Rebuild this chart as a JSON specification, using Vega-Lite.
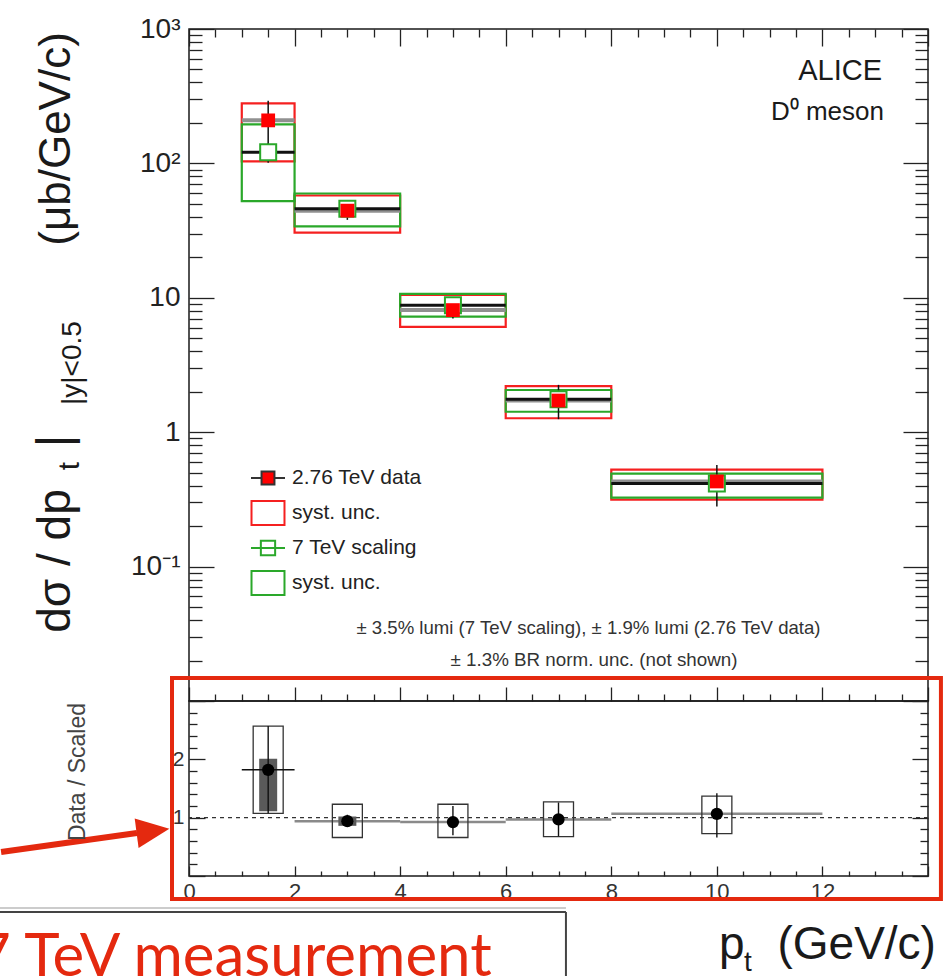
{
  "$schema": "https://vega.github.io/schema/vega-lite/v6.json",
  "background": "white",
  "padding": {"left": -25, "top": 14, "right": 0, "bottom": 0},
  "spacing": 0,
  "bounds": "flush",
  "config": {
    "view": {"stroke": "#1a1a1a", "strokeWidth": 1.5},
    "font": "Liberation Sans",
    "axis": {"labelFont": "Liberation Sans"},
    "legend": {"labelFont": "Liberation Sans"}
  },
  "datasets": {
    "spectrum": [
      {"lo": 1, "hi": 2, "pt": 1.5, "data": 209, "data_stat_lo": 126, "data_stat_hi": 292, "data_syst_lo": 103.5, "data_syst_hi": 280, "scaled": 121, "scaled_stat_lo": 101, "scaled_stat_hi": 141, "scaled_syst_lo": 52.4, "scaled_syst_hi": 195},
      {"lo": 2, "hi": 4, "pt": 3, "data": 44.5, "data_stat_lo": 38, "data_stat_hi": 52, "data_syst_lo": 30.5, "data_syst_hi": 57.7, "scaled": 46, "scaled_stat_lo": 43.5, "scaled_stat_hi": 48.5, "scaled_syst_lo": 34, "scaled_syst_hi": 59.7},
      {"lo": 4, "hi": 6, "pt": 5, "data": 8.1, "data_stat_lo": 7.0, "data_stat_hi": 9.4, "data_syst_lo": 6.08, "data_syst_hi": 10.5, "scaled": 8.8, "scaled_stat_lo": 8.4, "scaled_stat_hi": 9.2, "scaled_syst_lo": 7.25, "scaled_syst_hi": 10.7},
      {"lo": 6, "hi": 8, "pt": 7, "data": 1.72, "data_stat_lo": 1.25, "data_stat_hi": 2.25, "data_syst_lo": 1.27, "data_syst_hi": 2.2, "scaled": 1.76, "scaled_stat_lo": 1.68, "scaled_stat_hi": 1.84, "scaled_syst_lo": 1.42, "scaled_syst_hi": 2.06},
      {"lo": 8, "hi": 12, "pt": 10, "data": 0.43, "data_stat_lo": 0.28, "data_stat_hi": 0.57, "data_syst_lo": 0.315, "data_syst_hi": 0.527, "scaled": 0.415, "scaled_stat_lo": 0.4, "scaled_stat_hi": 0.43, "scaled_syst_lo": 0.326, "scaled_syst_hi": 0.492}
    ],
    "ratio": [
      {"lo": 1, "hi": 2, "pt": 1.5, "ratio": 1.82, "stat_lo": 1.075, "stat_hi": 2.57, "syst_lo": 1.075, "syst_hi": 2.57},
      {"lo": 2, "hi": 4, "pt": 3, "ratio": 0.94, "stat_lo": 0.84, "stat_hi": 1.05, "syst_lo": 0.66, "syst_hi": 1.23},
      {"lo": 4, "hi": 6, "pt": 5, "ratio": 0.924, "stat_lo": 0.7, "stat_hi": 1.2, "syst_lo": 0.66, "syst_hi": 1.23},
      {"lo": 6, "hi": 8, "pt": 7, "ratio": 0.97, "stat_lo": 0.68, "stat_hi": 1.26, "syst_lo": 0.676, "syst_hi": 1.27},
      {"lo": 8, "hi": 12, "pt": 10, "ratio": 1.066, "stat_lo": 0.66, "stat_hi": 1.42, "syst_lo": 0.728, "syst_hi": 1.37}
    ],
    "ratio_inner": [
      {"pt": 1.5, "lo": 1.11, "hi": 2.01},
      {"pt": 3, "lo": 0.86, "hi": 1.02}
    ],
    "legend": [
      {"entry": "2.76 TeV data"},
      {"entry": "syst. unc. (2.76 TeV)"},
      {"entry": "7 TeV scaling"},
      {"entry": "syst. unc. (7 TeV)"}
    ]
  },
  "vconcat": [
    {
      "width": 739,
      "height": 672,
      "data": {"name": "spectrum"},
      "resolve": {"axis": {"x": "independent", "y": "independent"}},
      "layer": [
        {
          "mark": {"type": "rect", "fill": "transparent", "stroke": "#f52020", "strokeWidth": 2.2},
          "encoding": {
            "x": {"field": "lo", "type": "quantitative", "scale": {"domain": [0, 14], "nice": false, "zero": false},
              "axis": {"orient": "bottom", "values": [0,0.5,1,1.5,2,2.5,3,3.5,4,4.5,5,5.5,6,6.5,7,7.5,8,8.5,9,9.5,10,10.5,11,11.5,12,12.5,13,13.5,14], "labels": false, "domain": false, "grid": false, "title": null, "tickColor": "#222", "tickWidth": 1.3, "tickSize": {"condition": {"test": "datum.value % 2 === 0", "value": -14}, "value": -7}}},
            "x2": {"field": "hi"},
            "y": {"field": "data_syst_lo", "type": "quantitative", "scale": {"type": "log", "domain": [0.01, 1000], "nice": false},
              "axis": {"orient": "left", "values": [0.1, 1, 10, 100, 1000], "ticks": false, "domain": false, "grid": false, "title": null, "labelFontSize": 28, "labelPadding": 9, "labelColor": "#222", "labelFlush": false, "labelOverlap": false, "labelExpr": "datum.value >= 999 ? '10³' : datum.value >= 99 ? '10²' : datum.value >= 9 ? '10' : datum.value >= 0.9 ? '1' : '10⁻¹'"}},
            "y2": {"field": "data_syst_hi"}
          }
        },
        {
          "mark": {"type": "rect", "fill": "transparent", "stroke": "#2aa82a", "strokeWidth": 2.2},
          "encoding": {
            "x": {"field": "lo", "type": "quantitative",
              "axis": {"orient": "top", "values": [0,0.5,1,1.5,2,2.5,3,3.5,4,4.5,5,5.5,6,6.5,7,7.5,8,8.5,9,9.5,10,10.5,11,11.5,12,12.5,13,13.5,14], "labels": false, "domain": false, "grid": false, "title": null, "tickColor": "#222", "tickWidth": 1.3, "tickSize": {"condition": {"test": "datum.value % 2 === 0", "value": -17}, "value": -8}}},
            "x2": {"field": "hi"},
            "y": {"field": "scaled_syst_lo", "type": "quantitative",
              "axis": {"orient": "left", "values": [0.01,0.02,0.03,0.04,0.05,0.06,0.07,0.08,0.09,0.1,0.2,0.3,0.4,0.5,0.6,0.7,0.8,0.9,1,2,3,4,5,6,7,8,9,10,20,30,40,50,60,70,80,90,100,200,300,400,500,600,700,800,900,1000], "labels": false, "domain": false, "grid": false, "title": null, "tickColor": "#222", "tickWidth": 1.3, "tickSize": {"condition": {"test": "abs(log(datum.value)/LN10 - round(log(datum.value)/LN10)) < 0.001", "value": -25}, "value": -13}}},
            "y2": {"field": "scaled_syst_hi"}
          }
        },
        {
          "mark": {"type": "rule", "color": "#909090", "strokeWidth": 4},
          "encoding": {
            "x": {"field": "lo", "type": "quantitative", "axis": null},
            "x2": {"field": "hi"},
            "y": {"field": "data", "type": "quantitative",
              "axis": {"orient": "right", "values": [0.01,0.02,0.03,0.04,0.05,0.06,0.07,0.08,0.09,0.1,0.2,0.3,0.4,0.5,0.6,0.7,0.8,0.9,1,2,3,4,5,6,7,8,9,10,20,30,40,50,60,70,80,90,100,200,300,400,500,600,700,800,900,1000], "labels": false, "domain": false, "grid": false, "title": null, "tickColor": "#222", "tickWidth": 1.3, "tickSize": {"condition": {"test": "abs(log(datum.value)/LN10 - round(log(datum.value)/LN10)) < 0.001", "value": -25}, "value": -13}}}
          }
        },
        {
          "mark": {"type": "rule", "color": "#111111", "strokeWidth": 3},
          "encoding": {
            "x": {"field": "lo", "type": "quantitative", "axis": null},
            "x2": {"field": "hi"},
            "y": {"field": "scaled", "type": "quantitative", "axis": null}
          }
        },
        {
          "mark": {"type": "rule", "color": "#111111", "strokeWidth": 1.5},
          "encoding": {
            "x": {"field": "pt", "type": "quantitative", "axis": null},
            "y": {"field": "data_stat_lo", "type": "quantitative", "axis": null},
            "y2": {"field": "data_stat_hi"}
          }
        },
        {
          "mark": {"type": "rule", "color": "#111111", "strokeWidth": 1.5},
          "encoding": {
            "x": {"field": "pt", "type": "quantitative", "axis": null},
            "y": {"field": "scaled_stat_lo", "type": "quantitative", "axis": null},
            "y2": {"field": "scaled_stat_hi"}
          }
        },
        {
          "mark": {"type": "point", "shape": "square", "size": 256, "filled": false, "fill": "#ffffff", "stroke": "#2aa82a", "strokeWidth": 2, "opacity": 1},
          "encoding": {
            "x": {"field": "pt", "type": "quantitative", "axis": null},
            "y": {"field": "scaled", "type": "quantitative", "axis": null}
          }
        },
        {
          "mark": {"type": "point", "shape": "square", "size": 190, "filled": true, "color": "#ff0000", "opacity": 1},
          "encoding": {
            "x": {"field": "pt", "type": "quantitative", "axis": null},
            "y": {"field": "data", "type": "quantitative", "axis": null}
          }
        },
        {
          "data": {"name": "legend"},
          "transform": [{"filter": "false"}],
          "mark": {"type": "point", "filled": false, "opacity": 1},
          "encoding": {
            "shape": {"field": "entry", "type": "nominal",
              "scale": {"domain": ["2.76 TeV data", "syst. unc. (2.76 TeV)", "7 TeV scaling", "syst. unc. (7 TeV)"], "range": ["M-1,0H-0.38M0.38,0H1M-0.38,-0.38H0.38V0.38H-0.38Z", "M-0.97,-0.7H0.97V0.7H-0.97Z", "M-1,0H1M-0.42,-0.42H0.42V0.42H-0.42Z", "M-0.97,-0.7H0.97V0.7H-0.97Z"]},
              "legend": {"orient": "none", "legendX": 61, "legendY": 431, "title": null, "symbolSize": 1156, "symbolStrokeWidth": 2, "symbolOpacity": 1, "labelFontSize": 21, "labelColor": "#222", "labelOffset": 6, "rowPadding": 1, "gridAlign": "all", "padding": 0, "labelExpr": "indexof(datum.label, 'syst') === 0 ? 'syst. unc.' : datum.label"}},
            "fill": {"field": "entry", "type": "nominal",
              "scale": {"domain": ["2.76 TeV data", "syst. unc. (2.76 TeV)", "7 TeV scaling", "syst. unc. (7 TeV)"], "range": ["#ff0000", "transparent", "transparent", "transparent"]},
              "legend": {"orient": "none", "legendX": 61, "legendY": 431, "title": null, "symbolSize": 1156, "symbolStrokeWidth": 2, "symbolOpacity": 1, "labelFontSize": 21, "labelColor": "#222", "labelOffset": 6, "rowPadding": 1, "gridAlign": "all", "padding": 0, "labelExpr": "indexof(datum.label, 'syst') === 0 ? 'syst. unc.' : datum.label"}},
            "stroke": {"field": "entry", "type": "nominal",
              "scale": {"domain": ["2.76 TeV data", "syst. unc. (2.76 TeV)", "7 TeV scaling", "syst. unc. (7 TeV)"], "range": ["#333333", "#f52020", "#2aa82a", "#2aa82a"]},
              "legend": {"orient": "none", "legendX": 61, "legendY": 431, "title": null, "symbolSize": 1156, "symbolStrokeWidth": 2, "symbolOpacity": 1, "labelFontSize": 21, "labelColor": "#222", "labelOffset": 6, "rowPadding": 1, "gridAlign": "all", "padding": 0, "labelExpr": "indexof(datum.label, 'syst') === 0 ? 'syst. unc.' : datum.label"}}
          }
        },
        {
          "data": {"values": [{}]},
          "mark": {"type": "text", "text": "ALICE", "align": "right", "baseline": "middle", "fontSize": 29, "color": "#1a1a1a"},
          "encoding": {"x": {"datum": 13.13, "axis": null}, "y": {"datum": 487, "axis": null}}
        },
        {
          "data": {"values": [{}]},
          "mark": {"type": "text", "text": "D⁰ meson", "align": "right", "baseline": "middle", "fontSize": 26, "color": "#1a1a1a"},
          "encoding": {"x": {"datum": 13.165, "axis": null}, "y": {"datum": 241, "axis": null}}
        },
        {
          "data": {"values": [{}]},
          "mark": {"type": "text", "text": "± 3.5% lumi (7 TeV scaling),   ± 1.9% lumi (2.76 TeV data)", "align": "center", "baseline": "middle", "fontSize": 18.6, "color": "#333333"},
          "encoding": {"x": {"datum": 7.568, "axis": null}, "y": {"datum": 0.0349, "axis": null}}
        },
        {
          "data": {"values": [{}]},
          "mark": {"type": "text", "text": "± 1.3% BR norm. unc. (not shown)", "align": "center", "baseline": "middle", "fontSize": 18.8, "color": "#333333"},
          "encoding": {"x": {"datum": 7.672, "axis": null}, "y": {"datum": 0.0202, "axis": null}}
        },
        {
          "data": {"values": [{}]},
          "mark": {"type": "text", "text": "dσ / dp", "angle": 270, "align": "center", "baseline": "alphabetic", "fontSize": 46, "color": "#1a1a1a"},
          "encoding": {"x": {"datum": -2.254, "axis": null}, "y": {"datum": 0.110, "axis": null}}
        },
        {
          "data": {"values": [{}]},
          "mark": {"type": "text", "text": "t", "angle": 270, "align": "center", "baseline": "alphabetic", "fontSize": 30, "color": "#1a1a1a"},
          "encoding": {"x": {"datum": -2.084, "axis": null}, "y": {"datum": 0.56, "axis": null}}
        },
        {
          "data": {"values": [{}]},
          "mark": {"type": "text", "text": "|", "angle": 270, "align": "center", "baseline": "alphabetic", "fontSize": 48, "color": "#1a1a1a"},
          "encoding": {"x": {"datum": -2.254, "axis": null}, "y": {"datum": 0.86, "axis": null}}
        },
        {
          "data": {"values": [{}]},
          "mark": {"type": "text", "text": "|y|<0.5", "angle": 270, "align": "center", "baseline": "alphabetic", "fontSize": 28, "color": "#1a1a1a"},
          "encoding": {"x": {"datum": -2.046, "axis": null}, "y": {"datum": 3.27, "axis": null}}
        },
        {
          "data": {"values": [{}]},
          "mark": {"type": "text", "text": "(μb/GeV/c)", "angle": 270, "align": "center", "baseline": "alphabetic", "fontSize": 44, "color": "#1a1a1a"},
          "encoding": {"x": {"datum": -2.254, "axis": null}, "y": {"datum": 152, "axis": null}}
        }
      ]
    },
    {
      "width": 739,
      "height": 175,
      "data": {"name": "ratio"},
      "resolve": {"axis": {"x": "independent", "y": "independent"}},
      "layer": [
        {
          "transform": [{"filter": "datum.pt > 2"}],
          "mark": {"type": "rule", "color": "#8a8a8a", "strokeWidth": 2.5},
          "encoding": {
            "x": {"field": "lo", "type": "quantitative", "scale": {"domain": [0, 14], "nice": false, "zero": false},
              "axis": {"orient": "bottom", "values": [0, 2, 4, 6, 8, 10, 12], "ticks": false, "domain": false, "grid": false, "title": null, "labelFontSize": 22, "labelPadding": 5, "labelColor": "#333333", "labelFlush": false, "labelOverlap": false}},
            "x2": {"field": "hi"},
            "y": {"field": "ratio", "type": "quantitative", "scale": {"domain": [0, 3], "nice": false, "zero": false},
              "axis": {"orient": "left", "values": [1, 2], "ticks": false, "domain": false, "grid": false, "title": null, "labelFontSize": 21, "labelPadding": 5, "labelColor": "#333333", "labelFlush": false}}
          }
        },
        {
          "data": {"values": [{}]},
          "mark": {"type": "rule", "color": "#333333", "strokeWidth": 1.2, "strokeDash": [4, 4]},
          "encoding": {"y": {"datum": 1, "axis": null}}
        },
        {
          "mark": {"type": "rect", "width": 30, "fill": "transparent", "stroke": "#333333", "strokeWidth": 1.3},
          "encoding": {
            "x": {"field": "pt", "type": "quantitative",
              "axis": {"orient": "bottom", "values": [0,0.5,1,1.5,2,2.5,3,3.5,4,4.5,5,5.5,6,6.5,7,7.5,8,8.5,9,9.5,10,10.5,11,11.5,12,12.5,13,13.5,14], "labels": false, "domain": false, "grid": false, "title": null, "tickColor": "#222", "tickWidth": 1.3, "tickSize": {"condition": {"test": "datum.value % 2 === 0", "value": -10}, "value": -5}}},
            "y": {"field": "syst_lo", "type": "quantitative",
              "axis": {"orient": "left", "values": [0,0.2,0.4,0.6,0.8,1,1.2,1.4,1.6,1.8,2,2.2,2.4,2.6,2.8,3], "labels": false, "domain": false, "grid": false, "title": null, "tickColor": "#222", "tickWidth": 1.3, "tickSize": {"condition": {"test": "abs(datum.value - round(datum.value)) < 0.01", "value": -16}, "value": -8}}},
            "y2": {"field": "syst_hi"}
          }
        },
        {
          "data": {"name": "ratio_inner"},
          "mark": {"type": "rect", "width": 18, "color": "#5a5a5a", "opacity": 1},
          "encoding": {
            "x": {"field": "pt", "type": "quantitative", "axis": null},
            "y": {"field": "lo", "type": "quantitative",
              "axis": {"orient": "right", "values": [0,0.2,0.4,0.6,0.8,1,1.2,1.4,1.6,1.8,2,2.2,2.4,2.6,2.8,3], "labels": false, "domain": false, "grid": false, "title": null, "tickColor": "#222", "tickWidth": 1.3, "tickSize": {"condition": {"test": "abs(datum.value - round(datum.value)) < 0.01", "value": -16}, "value": -8}}},
            "y2": {"field": "hi"}
          }
        },
        {
          "transform": [{"filter": "datum.pt < 2"}],
          "mark": {"type": "rule", "color": "#111111", "strokeWidth": 1.5},
          "encoding": {
            "x": {"field": "lo", "type": "quantitative", "axis": null},
            "x2": {"field": "hi"},
            "y": {"field": "ratio", "type": "quantitative", "axis": null}
          }
        },
        {
          "mark": {"type": "rule", "color": "#111111", "strokeWidth": 1.4},
          "encoding": {
            "x": {"field": "pt", "type": "quantitative", "axis": null},
            "y": {"field": "stat_lo", "type": "quantitative", "axis": null},
            "y2": {"field": "stat_hi"}
          }
        },
        {
          "mark": {"type": "point", "shape": "circle", "size": 150, "filled": true, "color": "#000000", "opacity": 1},
          "encoding": {
            "x": {"field": "pt", "type": "quantitative", "axis": null},
            "y": {"field": "ratio", "type": "quantitative", "axis": null}
          }
        },
        {
          "data": {"values": [{}]},
          "mark": {"type": "rect", "fill": "transparent", "stroke": "#e4290f", "strokeWidth": 4},
          "encoding": {
            "x": {"datum": -0.322, "axis": null}, "x2": {"datum": 14.245},
            "y": {"datum": 3.394, "axis": null}, "y2": {"datum": -0.394}
          }
        },
        {
          "data": {"values": [{}]},
          "mark": {"type": "rule", "color": "#e4290f", "strokeWidth": 6},
          "encoding": {
            "x": {"datum": -3.56, "axis": null}, "x2": {"datum": -0.985},
            "y": {"datum": 0.411, "axis": null}, "y2": {"datum": 0.737}
          }
        },
        {
          "data": {"values": [{}]},
          "mark": {"type": "point", "shape": "M-1,-0.9L1,0L-1,0.9Z", "size": 1089, "angle": -7.5, "filled": true, "color": "#e4290f", "opacity": 1},
          "encoding": {"x": {"datum": -0.682, "axis": null}, "y": {"datum": 0.771, "axis": null}}
        },
        {
          "data": {"values": [{}]},
          "mark": {"type": "rule", "color": "#cccccc", "strokeWidth": 2},
          "encoding": {
            "x": {"datum": -4.0, "axis": null}, "x2": {"datum": 7.141},
            "y": {"datum": -0.549, "axis": null}
          }
        },
        {
          "data": {"values": [{}]},
          "mark": {"type": "rule", "color": "#444444", "strokeWidth": 2},
          "encoding": {
            "x": {"datum": -4.0, "axis": null}, "x2": {"datum": 7.141},
            "y": {"datum": -0.617, "axis": null}
          }
        },
        {
          "data": {"values": [{}]},
          "mark": {"type": "rule", "color": "#444444", "strokeWidth": 2},
          "encoding": {
            "x": {"datum": 7.141, "axis": null},
            "y": {"datum": -0.617, "axis": null}, "y2": {"datum": -2.1}
          }
        },
        {
          "data": {"values": [{}]},
          "mark": {"type": "text", "text": "7 TeV measurement", "align": "left", "baseline": "alphabetic", "font": "Lato", "fontSize": 60, "color": "#e4290f"},
          "encoding": {"x": {"datum": -4.035, "axis": null}, "y": {"datum": -1.714, "axis": null}}
        },
        {
          "data": {"values": [{}]},
          "mark": {"type": "text", "text": "Data / Scaled", "angle": 270, "align": "center", "baseline": "middle", "fontSize": 23, "color": "#444444"},
          "encoding": {"x": {"datum": -2.103, "axis": null}, "y": {"datum": 1.783, "axis": null}}
        },
        {
          "data": {"values": [{}]},
          "mark": {"type": "text", "text": "p", "align": "left", "baseline": "alphabetic", "fontSize": 46, "color": "#1a1a1a"},
          "encoding": {"x": {"datum": 10.04, "axis": null}, "y": {"datum": -1.423, "axis": null}}
        },
        {
          "data": {"values": [{}]},
          "mark": {"type": "text", "text": "t", "align": "left", "baseline": "alphabetic", "fontSize": 28, "color": "#1a1a1a"},
          "encoding": {"x": {"datum": 10.513, "axis": null}, "y": {"datum": -1.629, "axis": null}}
        },
        {
          "data": {"values": [{}]},
          "mark": {"type": "text", "text": "(GeV/c)", "align": "right", "baseline": "alphabetic", "fontSize": 46, "color": "#1a1a1a"},
          "encoding": {"x": {"datum": 14.15, "axis": null}, "y": {"datum": -1.423, "axis": null}}
        }
      ]
    }
  ]
}
